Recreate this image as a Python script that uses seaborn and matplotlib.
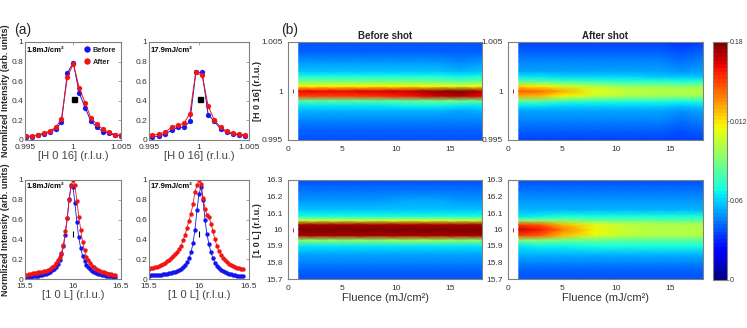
import numpy as np
import matplotlib
matplotlib.use("Agg")
import matplotlib.pyplot as plt
import seaborn as sns
from matplotlib.colors import ListedColormap
from matplotlib.lines import Line2D

# ---------------- data ----------------
# (a) H scans
h_scan_low = [0.99509, 0.99571, 0.99633, 0.99694, 0.99756, 0.99818, 0.99879, 0.99941, 1.00003,
              1.00065, 1.00126, 1.00188, 1.00250, 1.00311, 1.00373, 1.00435, 1.00496]
before_h_low = [0.03, 0.035, 0.05, 0.06, 0.08, 0.11, 0.18, 0.68, 0.79, 0.48, 0.33, 0.19, 0.13, 0.085, 0.07, 0.05, 0.045]
after_h_low = [0.04, 0.04, 0.05, 0.07, 0.09, 0.13, 0.21, 0.64, 0.78, 0.53, 0.38, 0.22, 0.16, 0.11, 0.08, 0.055, 0.05]

h_scan_high = [0.99527, 0.99600, 0.99663, 0.99726, 0.99786, 0.99849, 0.99909, 0.99968, 1.00032,
               1.00091, 1.00154, 1.00218, 1.00277, 1.00340, 1.00400, 1.00463]
before_h_high = [0.034, 0.04, 0.06, 0.10, 0.13, 0.13, 0.19, 0.69, 0.69, 0.26, 0.19, 0.11, 0.08, 0.06, 0.05, 0.04]
after_h_high = [0.05, 0.06, 0.08, 0.13, 0.15, 0.17, 0.27, 0.69, 0.66, 0.35, 0.20, 0.13, 0.09, 0.07, 0.06, 0.05]

# (a) L scans
l_scan = [15.50, 15.52, 15.54, 15.56, 15.58, 15.60, 15.62, 15.64, 15.66, 15.68, 15.70, 15.72,
          15.74, 15.76, 15.78, 15.80, 15.82, 15.84, 15.86, 15.88, 15.90, 15.92, 15.94, 15.96,
          15.98, 16.00, 16.02, 16.04, 16.06, 16.08, 16.10, 16.12, 16.14, 16.16, 16.18, 16.20,
          16.22, 16.24, 16.26, 16.28, 16.30, 16.32, 16.34, 16.36, 16.38, 16.40, 16.42, 16.44]
before_l_low = [0.021, 0.022, 0.024, 0.025, 0.027, 0.030, 0.032, 0.035, 0.039, 0.044, 0.049, 0.055,
                0.063, 0.073, 0.086, 0.102, 0.123, 0.152, 0.192, 0.249, 0.330, 0.448, 0.612, 0.806,
                0.950, 0.931, 0.768, 0.576, 0.421, 0.311, 0.236, 0.183, 0.146, 0.119, 0.098, 0.083,
                0.071, 0.061, 0.054, 0.048, 0.043, 0.038, 0.035, 0.032, 0.029, 0.027, 0.025, 0.023]
after_l_low = [0.042, 0.045, 0.049, 0.053, 0.056, 0.059, 0.062, 0.066, 0.071, 0.075, 0.080, 0.085,
               0.093, 0.103, 0.118, 0.135, 0.160, 0.190, 0.225, 0.265, 0.340, 0.480, 0.620, 0.800,
               0.940, 1.000, 0.950, 0.790, 0.630, 0.500, 0.370, 0.290, 0.225, 0.190, 0.160, 0.135,
               0.118, 0.103, 0.092, 0.082, 0.073, 0.066, 0.060, 0.055, 0.050, 0.046, 0.042, 0.040]
before_l_high = [0.035, 0.036, 0.037, 0.038, 0.040, 0.042, 0.044, 0.046, 0.049, 0.053, 0.057, 0.062,
                 0.068, 0.075, 0.083, 0.092, 0.105, 0.120, 0.140, 0.170, 0.210, 0.270, 0.360, 0.500,
                 0.700, 0.860, 0.930, 0.800, 0.600, 0.450, 0.350, 0.270, 0.210, 0.165, 0.130, 0.108,
                 0.090, 0.077, 0.067, 0.058, 0.051, 0.046, 0.042, 0.038, 0.035, 0.033, 0.031, 0.030]
after_l_high = [0.100, 0.110, 0.115, 0.120, 0.125, 0.135, 0.145, 0.155, 0.165, 0.180, 0.195, 0.215,
                0.235, 0.255, 0.275, 0.300, 0.335, 0.390, 0.440, 0.520, 0.590, 0.660, 0.760, 0.880,
                0.950, 1.000, 0.960, 0.820, 0.710, 0.650, 0.630, 0.560, 0.480, 0.400, 0.330, 0.280,
                0.245, 0.215, 0.190, 0.170, 0.155, 0.140, 0.130, 0.120, 0.113, 0.107, 0.100, 0.096]

# reference marks
square_mark_h = [1.0001]
square_mark_i = [0.42]
bar_mark_l = [15.995]
bar_mark_i = [0.455]

# (b) maps
fluence_cols = [1, 3, 5, 8, 11, 14, 16, 18]
h_rows = [0.995, 0.996, 0.997, 0.998, 0.9985, 0.999, 0.9995, 1.0, 1.0005, 1.001, 1.0015, 1.002, 1.003, 1.004, 1.005]
l_rows = [15.7, 15.75, 15.8, 15.85, 15.9, 15.935, 15.965, 16.0, 16.03, 16.055, 16.08, 16.12, 16.18, 16.24, 16.3]

before_shot_h = [
    [0.038, 0.038, 0.038, 0.038, 0.038, 0.038, 0.037, 0.038],
    [0.042, 0.042, 0.042, 0.042, 0.042, 0.042, 0.041, 0.042],
    [0.047, 0.047, 0.047, 0.047, 0.047, 0.046, 0.045, 0.046],
    [0.055, 0.055, 0.055, 0.055, 0.055, 0.054, 0.053, 0.054],
    [0.064, 0.064, 0.064, 0.064, 0.065, 0.065, 0.064, 0.064],
    [0.082, 0.082, 0.082, 0.082, 0.084, 0.088, 0.088, 0.085],
    [0.150, 0.150, 0.150, 0.152, 0.158, 0.168, 0.170, 0.162],
    [0.162, 0.162, 0.163, 0.164, 0.168, 0.176, 0.178, 0.170],
    [0.118, 0.118, 0.118, 0.118, 0.118, 0.115, 0.112, 0.115],
    [0.088, 0.088, 0.088, 0.088, 0.088, 0.086, 0.084, 0.086],
    [0.068, 0.068, 0.068, 0.068, 0.068, 0.068, 0.066, 0.068],
    [0.057, 0.057, 0.057, 0.057, 0.057, 0.057, 0.056, 0.057],
    [0.048, 0.048, 0.048, 0.048, 0.048, 0.048, 0.047, 0.048],
    [0.042, 0.042, 0.042, 0.042, 0.042, 0.042, 0.041, 0.042],
    [0.038, 0.038, 0.038, 0.038, 0.038, 0.038, 0.037, 0.038],
]
after_shot_h = [
    [0.036, 0.036, 0.036, 0.036, 0.036, 0.036, 0.034, 0.036],
    [0.040, 0.040, 0.040, 0.040, 0.040, 0.040, 0.038, 0.040],
    [0.045, 0.045, 0.045, 0.045, 0.045, 0.045, 0.043, 0.045],
    [0.052, 0.052, 0.052, 0.052, 0.052, 0.052, 0.050, 0.052],
    [0.062, 0.062, 0.060, 0.060, 0.060, 0.060, 0.058, 0.060],
    [0.085, 0.083, 0.078, 0.075, 0.073, 0.072, 0.070, 0.072],
    [0.132, 0.128, 0.118, 0.106, 0.099, 0.098, 0.096, 0.098],
    [0.146, 0.141, 0.130, 0.115, 0.106, 0.104, 0.102, 0.103],
    [0.122, 0.117, 0.108, 0.100, 0.095, 0.094, 0.092, 0.094],
    [0.082, 0.080, 0.076, 0.074, 0.072, 0.071, 0.069, 0.071],
    [0.062, 0.062, 0.060, 0.060, 0.060, 0.059, 0.057, 0.059],
    [0.052, 0.052, 0.052, 0.052, 0.052, 0.052, 0.050, 0.052],
    [0.045, 0.045, 0.045, 0.045, 0.045, 0.045, 0.043, 0.045],
    [0.040, 0.040, 0.040, 0.040, 0.040, 0.040, 0.037, 0.040],
    [0.036, 0.036, 0.036, 0.036, 0.036, 0.036, 0.033, 0.036],
]
before_shot_l = [
    [0.038, 0.038, 0.038, 0.038, 0.038, 0.038, 0.038, 0.038],
    [0.042, 0.042, 0.042, 0.042, 0.042, 0.042, 0.042, 0.042],
    [0.047, 0.047, 0.047, 0.047, 0.047, 0.047, 0.047, 0.047],
    [0.053, 0.053, 0.053, 0.053, 0.053, 0.053, 0.053, 0.053],
    [0.063, 0.063, 0.063, 0.063, 0.063, 0.063, 0.063, 0.063],
    [0.095, 0.095, 0.095, 0.095, 0.096, 0.096, 0.095, 0.095],
    [0.172, 0.172, 0.172, 0.172, 0.173, 0.173, 0.172, 0.172],
    [0.186, 0.186, 0.186, 0.186, 0.186, 0.186, 0.186, 0.186],
    [0.172, 0.172, 0.172, 0.172, 0.173, 0.173, 0.172, 0.172],
    [0.105, 0.105, 0.105, 0.106, 0.107, 0.107, 0.106, 0.105],
    [0.068, 0.068, 0.068, 0.068, 0.069, 0.069, 0.068, 0.068],
    [0.058, 0.058, 0.058, 0.058, 0.058, 0.058, 0.058, 0.058],
    [0.050, 0.050, 0.050, 0.050, 0.051, 0.051, 0.050, 0.050],
    [0.044, 0.044, 0.044, 0.044, 0.044, 0.044, 0.044, 0.044],
    [0.039, 0.039, 0.039, 0.039, 0.039, 0.039, 0.039, 0.039],
]
after_shot_l = [
    [0.038, 0.038, 0.038, 0.038, 0.038, 0.038, 0.038, 0.038],
    [0.042, 0.042, 0.042, 0.042, 0.042, 0.042, 0.042, 0.042],
    [0.047, 0.047, 0.047, 0.047, 0.047, 0.047, 0.047, 0.047],
    [0.054, 0.054, 0.054, 0.054, 0.054, 0.054, 0.054, 0.054],
    [0.064, 0.065, 0.066, 0.068, 0.068, 0.068, 0.068, 0.068],
    [0.090, 0.090, 0.088, 0.085, 0.084, 0.084, 0.083, 0.084],
    [0.150, 0.145, 0.128, 0.110, 0.102, 0.100, 0.099, 0.100],
    [0.168, 0.160, 0.140, 0.118, 0.106, 0.104, 0.103, 0.104],
    [0.150, 0.145, 0.128, 0.110, 0.102, 0.100, 0.099, 0.100],
    [0.092, 0.092, 0.090, 0.087, 0.085, 0.085, 0.084, 0.085],
    [0.064, 0.066, 0.068, 0.070, 0.070, 0.070, 0.070, 0.070],
    [0.056, 0.056, 0.056, 0.056, 0.056, 0.056, 0.056, 0.056],
    [0.049, 0.049, 0.049, 0.049, 0.049, 0.049, 0.049, 0.049],
    [0.043, 0.043, 0.043, 0.043, 0.043, 0.043, 0.043, 0.043],
    [0.039, 0.039, 0.039, 0.039, 0.039, 0.039, 0.039, 0.039],
]
heat_mark_f = [0.5]
heat_mark_h = [1.0]
heat_mark_l = [16.0]

cbar_ticks = [0, 0.06, 0.12, 0.18]
cbar_labels = ["0", "0.06", "0.012", "0.18"]

# ---------------- style ----------------
sns.set_style("white")
plt.rcParams["font.family"] = ["Liberation Sans", "DejaVu Sans"]
plt.rcParams["axes.linewidth"] = 0.8

W, H = 747, 328
BLUE = "#1414f0"
RED = "#f01414"
SPINE = "#808080"
TXT = "#333333"


def fr(left, top, right, bottom):
    return [left / W, 1 - bottom / H, (right - left) / W, (bottom - top) / H]


fig = plt.figure(figsize=(W / 100, H / 100), dpi=100)

ax_a1 = fig.add_axes(fr(25, 42, 121, 140))
ax_a2 = fig.add_axes(fr(149, 42, 249, 140))
ax_a3 = fig.add_axes(fr(25, 180, 121, 279))
ax_a4 = fig.add_axes(fr(149, 180, 249, 279))
ax_b1 = fig.add_axes(fr(288, 42, 482, 140))
ax_b2 = fig.add_axes(fr(508, 42, 703, 140))
ax_b3 = fig.add_axes(fr(288, 180, 482, 279))
ax_b4 = fig.add_axes(fr(508, 180, 703, 279))
cax = fig.add_axes(fr(713, 42, 727, 280))


def style_axes(ax, direction):
    for s in ax.spines.values():
        s.set_color(SPINE)
        s.set_linewidth(0.8)
    ax.tick_params(direction=direction, length=2, width=0.5, color=SPINE,
                   labelsize=6, labelcolor=TXT, pad=1.5,
                   top=(direction == "in"), right=(direction == "in"))
    ax.tick_params(axis="x", pad=2.6)


def line_panel(ax, x, yb, ya, ms, lw):
    sns.lineplot(x=x, y=yb, ax=ax, color=BLUE, marker="o", markersize=ms,
                 markeredgecolor=BLUE, markeredgewidth=0.2, linewidth=lw, sort=False, legend=False)
    sns.lineplot(x=x, y=ya, ax=ax, color=RED, marker="o", markersize=ms,
                 markeredgecolor=RED, markeredgewidth=0.2, linewidth=lw, sort=False, legend=False)
    ax.set_ylim(0, 1)
    ax.set_yticks([0, 0.2, 0.4, 0.6, 0.8, 1.0])
    ax.set_yticklabels(["0", "0.2", "0.4", "0.6", "0.8", "1"])
    ax.set_ylabel("")
    style_axes(ax, "in")


line_panel(ax_a1, h_scan_low, before_h_low, after_h_low, 3.6, 0.7)
line_panel(ax_a2, h_scan_high, before_h_high, after_h_high, 3.6, 0.7)
line_panel(ax_a3, l_scan, before_l_low, after_l_low, 2.9, 0.6)
line_panel(ax_a4, l_scan, before_l_high, after_l_high, 2.9, 0.6)

for ax in (ax_a1, ax_a2):
    ax.set_xlim(0.995, 1.005)
    ax.set_xticks([0.995, 1.0, 1.005])
    ax.set_xticklabels(["0.995", "1", "1.005"])
    ax.set_xlabel("[H 0 16] (r.l.u.)", fontsize=8, color="#444444", labelpad=0.5)
    ax.plot(square_mark_h, square_mark_i, marker="s", color="black", ms=3.6, ls="none")
for ax in (ax_a3, ax_a4):
    ax.set_xlim(15.5, 16.5)
    ax.set_xticks([15.5, 16.0, 16.5])
    ax.set_xticklabels(["15.5", "16", "16.5"])
    ax.set_xlabel("[1 0 L] (r.l.u.)", fontsize=8, color="#444444", labelpad=0.5)
    ax.plot(bar_mark_l, bar_mark_i, marker="|", color="black", ms=4, mew=0.8, ls="none")

for ax, txt, yy in ((ax_a1, "1.8mJ/cm²", 0.915), (ax_a2, "17.9mJ/cm²", 0.915),
                    (ax_a3, "1.8mJ/cm²", 0.935), (ax_a4, "17.9mJ/cm²", 0.935)):
    ax.text(0.015, yy, txt, transform=ax.transAxes, fontsize=5.5, fontweight="bold",
            va="center", ha="left", color="black")

handles = [Line2D([], [], marker="o", ls="none", color=BLUE, ms=3.6),
           Line2D([], [], marker="o", ls="none", color=RED, ms=3.6)]
ax_a1.legend(handles, ["Before", "After"], loc="upper right", frameon=False,
             prop={"size": 5.3, "weight": "bold"}, handlelength=0.6, handletextpad=0.5,
             labelspacing=0.65, borderpad=0.45, borderaxespad=0.2)

# ---------------- heat maps ----------------
jet64 = ListedColormap(plt.cm.jet(np.linspace(0, 1, 64)))


def heat_panel(ax, rows, grid, mark_y):
    F, Y = np.meshgrid(fluence_cols, rows)
    m = ax.pcolormesh(F, Y, np.array(grid), shading="gouraud", cmap=jet64, vmin=0, vmax=0.18)
    ax.plot(heat_mark_f, mark_y, marker="|", color="#b02828", ms=3, mew=0.7, ls="none")
    ax.set_xlim(0, 18)
    ax.set_xticks([0, 5, 10, 15])
    ax.set_xticklabels(["0", "5", "10", "15"])
    style_axes(ax, "out")
    return m


m1 = heat_panel(ax_b1, h_rows, before_shot_h, heat_mark_h)
heat_panel(ax_b2, h_rows, after_shot_h, heat_mark_h)
heat_panel(ax_b3, l_rows, before_shot_l, heat_mark_l)
heat_panel(ax_b4, l_rows, after_shot_l, heat_mark_l)

for ax in (ax_b1, ax_b2):
    ax.set_ylim(0.995, 1.005)
    ax.set_yticks([0.995, 1.0, 1.005])
    ax.set_yticklabels(["0.995", "1", "1.005"])
for ax in (ax_b3, ax_b4):
    ax.set_ylim(15.7, 16.3)
    ax.set_yticks([15.7, 15.8, 15.9, 16.0, 16.1, 16.2, 16.3])
    ax.set_yticklabels(["15.7", "15.8", "15.9", "16", "16.1", "16.2", "16.3"])
    ax.set_xlabel("Fluence (mJ/cm²)", fontsize=8, color="#333333", labelpad=0.5)

ax_b1.set_title("Before shot", fontsize=7, fontweight="bold", pad=2)
ax_b2.set_title("After shot", fontsize=7, fontweight="bold", pad=2)

cb = fig.colorbar(m1, cax=cax, ticks=cbar_ticks)
cb.ax.set_yticklabels(cbar_labels)
cb.outline.set_edgecolor(SPINE)
cb.outline.set_linewidth(0.8)
cb.ax.tick_params(direction="out", length=1.5, width=0.5, color=SPINE, labelsize=5,
                  labelcolor=TXT, pad=0.8)

# ---------------- labels ----------------
fig.text(23 / W, 1 - 30 / H, "(a)", fontsize=10, ha="center", va="center")
fig.text(290 / W, 1 - 30 / H, "(b)", fontsize=10, ha="center", va="center")
fig.text(6 / W, 1 - 91 / H, "Normlized Intensity (arb. units)", rotation=90, fontsize=6.5,
         fontweight="bold", ha="center", va="center")
fig.text(6 / W, 1 - 230 / H, "Normlized Intensity (arb. units)", rotation=90, fontsize=6.5,
         fontweight="bold", ha="center", va="center")
fig.text(258 / W, 1 - 91 / H, "[H 0 16] (r.l.u.)", rotation=90, fontsize=6.5,
         fontweight="bold", ha="center", va="center")
fig.text(258 / W, 1 - 230 / H, "[1 0 L] (r.l.u.)", rotation=90, fontsize=6.5,
         fontweight="bold", ha="center", va="center")

fig.savefig("out.png", dpi=100)
